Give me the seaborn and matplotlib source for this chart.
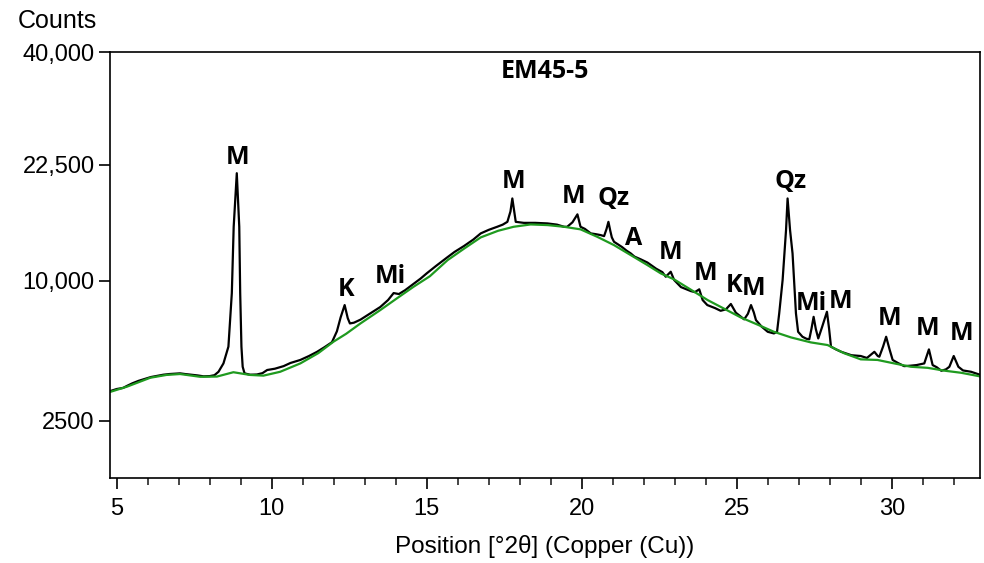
import numpy as np
import pandas as pd
import matplotlib
matplotlib.use("Agg")
import matplotlib.pyplot as plt
import seaborn as sns

# ---- data (2theta in degrees, intensity in counts) ----
bg_theta = [4.78, 5.33, 6.08, 6.6, 7.04, 7.69, 8.23, 8.76, 9.3, 9.73, 10.27, 10.92, 11.5, 11.99,
            12.4, 12.86, 13.5, 14.0, 14.57, 15.1, 15.67, 16.2, 16.74, 17.3, 17.8, 18.35, 18.9,
            19.43, 19.96, 20.5, 21.04, 21.58, 22.12, 22.55, 22.98, 23.5, 24.06, 24.6, 25.13,
            25.7, 26.2, 26.75, 27.39, 27.93, 28.47, 29.0, 29.54, 30.08, 30.62, 31.16, 31.7,
            32.24, 33.0]
bg_counts = [3370, 3570, 3930, 4050, 4090, 3970, 3980, 4170, 4050, 4020, 4190, 4580, 5100, 5730,
             6200, 6850, 7760, 8560, 9520, 10400, 11820, 12900, 14020, 14700, 15120, 15370, 15300,
             15120, 14850, 14080, 13250, 12290, 11370, 10640, 10130, 9320, 8490, 7850, 7250,
             6750, 6320, 5980, 5690, 5540, 5090, 4780, 4750, 4580, 4420, 4370, 4240,
             4145, 3950]

obs_theta = [4.78, 5.0, 5.2, 5.33, 5.5, 5.7, 5.9, 6.1, 6.3, 6.5, 6.7, 6.9, 7.04, 7.2, 7.4, 7.6,
             7.8, 8.0, 8.15, 8.28, 8.44, 8.6, 8.71, 8.77, 8.87, 8.95, 8.98, 9.02, 9.06, 9.12,
             9.3, 9.52, 9.7, 9.85, 10.1, 10.38, 10.6, 10.92, 11.2, 11.46, 11.7, 11.94, 12.1,
             12.22, 12.35, 12.45, 12.52, 12.65, 12.86, 13.1, 13.3, 13.5, 13.75, 13.93, 14.1,
             14.3, 14.57, 14.8, 15.0, 15.3, 15.67, 15.9, 16.2, 16.5, 16.74, 17.0, 17.27, 17.45,
             17.6, 17.7, 17.76, 17.82, 17.87, 18.13, 18.5, 18.89, 19.2, 19.43, 19.53, 19.7,
             19.86, 19.96, 20.1, 20.29, 20.45, 20.61, 20.72, 20.8, 20.86, 20.92, 20.97, 21.04,
             21.3, 21.45, 21.58, 21.7, 21.9, 22.12, 22.4, 22.6, 22.71, 22.87, 22.98, 23.2,
             23.35, 23.52, 23.65, 23.79, 23.9, 24.05, 24.3, 24.48, 24.65, 24.81, 24.97, 25.1,
             25.24, 25.36, 25.46, 25.55, 25.62, 25.8, 26.0, 26.2, 26.3, 26.37, 26.48, 26.59,
             26.64, 26.72, 26.8, 26.85, 26.91, 26.98, 27.12, 27.25, 27.34, 27.41, 27.48, 27.55,
             27.63, 27.75, 27.91, 27.98, 28.04, 28.2, 28.37, 28.7, 29.0, 29.2, 29.44, 29.55,
             29.6, 29.72, 29.82, 29.93, 30.03, 30.2, 30.4, 30.6, 30.8, 31.05, 31.2, 31.32,
             31.45, 31.6, 31.75, 31.86, 32.0, 32.15, 32.3, 32.56, 32.8, 33.0]
obs_counts = [3400, 3480, 3520, 3600, 3700, 3800, 3880, 3960, 4010, 4060, 4090, 4110, 4120, 4090,
              4060, 4030, 3990, 4000, 4040, 4190, 4580, 5450, 9025, 15120, 21400, 15120, 9025,
              5450, 4420, 4120, 4060, 4070, 4130, 4270, 4330, 4450, 4600, 4750, 4950, 5170, 5420,
              5700, 6350, 7250, 8120, 7200, 6850, 6900, 7100, 7420, 7700, 7980, 8490, 9025, 8950,
              9250, 9750, 10200, 10650, 11300, 12100, 12600, 13160, 13800, 14430, 14800, 15120,
              15350, 15650, 16800, 18290, 16800, 15650, 15540, 15540, 15480, 15350, 15120, 15120,
              15600, 16470, 15120, 14900, 14430, 14350, 14255, 14150, 14900, 15650, 14700, 14020,
              13580, 13060, 12700, 12450, 12150, 11900, 11600, 11050, 10750, 10355, 10785, 10080,
              9500, 9350, 9180, 9100, 9320, 8490, 8120, 7900, 7710, 7810, 8200, 7576, 7350, 7120,
              7500, 8120, 7600, 7070, 6650, 6320, 6220, 6320, 7530, 10080, 14770, 18290, 14770,
              12450, 10080, 7530, 6320, 6020, 5900, 5870, 6500, 7290, 6500, 5920, 6600, 7640,
              6500, 5450, 5300, 5170, 4990, 4950, 4850, 5170, 4950, 4913, 5450, 6020, 5300, 4750,
              4600, 4450, 4470, 4500, 4580, 5300, 4500, 4400, 4236, 4300, 4420, 4950, 4420, 4250,
              4190, 4080, 4000]

label_text = ["M", "K", "Mi", "M", "M", "Qz", "A", "M", "M", "K", "M", "Qz", "Mi", "M", "M", "M", "M"]
label_theta = [8.89, 12.41, 13.83, 17.8, 19.74, 21.03, 21.68, 22.88, 24.0, 24.9, 25.55, 26.75,
               27.39, 28.36, 29.94, 31.17, 32.24]
label_counts = [23520, 9340, 10410, 20400, 18570, 18330, 13860, 12490, 10670, 9665, 9420, 20400,
                8265, 8415, 7200, 6550, 6240]

y_ticks = [2500, 10000, 22500, 40000]
y_ticklabels = ["2500", "10,000", "22,500", "40,000"]
x_ticks = [5, 10, 15, 20, 25, 30]

title = "EM45-5"

# ---- plot ----
sns.set_style("white")
plt.rcParams["font.family"] = ["Liberation Sans", "DejaVu Sans"]
plt.rcParams["text.color"] = "black"
plt.rcParams["axes.labelcolor"] = "black"

fig = plt.figure(figsize=(9.84, 5.63), dpi=100)
ax = fig.add_axes([0.1118, 0.1504, 0.8842, 0.7566])

Y0 = 1800.0
ax.set_yscale("function", functions=(lambda v: np.sqrt(np.clip(np.asarray(v, float) - Y0, 0, None)),
                                     lambda u: np.asarray(u, float) ** 2 + Y0))

obs_df = pd.DataFrame({"theta": obs_theta, "counts": obs_counts})
bg_df = pd.DataFrame({"theta": bg_theta, "counts": bg_counts})
sns.lineplot(data=obs_df, x="theta", y="counts", ax=ax, color="black", linewidth=1.6,
             sort=False, estimator=None)
sns.lineplot(data=bg_df, x="theta", y="counts", ax=ax, color="#1f9a1f", linewidth=1.6,
             sort=False, estimator=None)

ax.set_xlim(4.78, 32.85)
ax.set_ylim(Y0, 40000)
ax.set_yticks(y_ticks)
ax.set_yticklabels(y_ticklabels)
ax.set_xticks(x_ticks)
ax.set_xticks(np.arange(5, 33, 1), minor=True)
ax.tick_params(axis="both", which="major", direction="out", length=8, width=1.2,
               labelsize=17, colors="black", bottom=True, left=True)
ax.tick_params(axis="x", which="minor", direction="out", length=5, width=1.2, bottom=True)
ax.tick_params(axis="y", which="major", pad=3)
ax.tick_params(axis="x", which="major", pad=6)
for sp in ax.spines.values():
    sp.set_visible(True)
    sp.set_color("black")
    sp.set_linewidth(1.2)

ax.set_xlabel("Position [°2θ] (Copper (Cu))", fontsize=17.5, labelpad=11, color="black")
ax.set_ylabel("")
fig.text(0.058, 0.962, "Counts", fontsize=18, ha="center", va="center", color="black")

ax.text(0.5, 0.955, title, transform=ax.transAxes, ha="center", va="center",
        fontsize=18, fontweight="bold", family=["Open Sans", "DejaVu Sans"], color="black")
for t, x, y in zip(label_text, label_theta, label_counts):
    ax.text(x, y, t, ha="center", va="center", fontsize=18, fontweight="bold",
            family=["Open Sans", "DejaVu Sans"], color="black")

fig.savefig("out.png", dpi=100)
